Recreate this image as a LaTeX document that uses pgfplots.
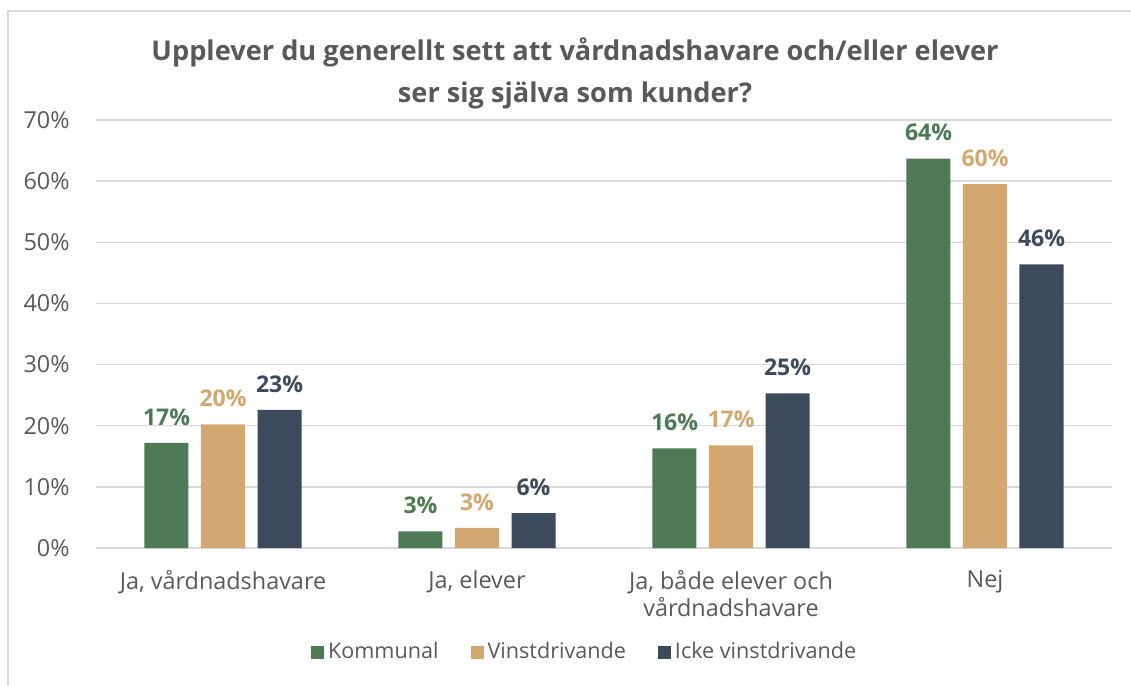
\documentclass[border=0pt]{standalone}
\usepackage{fontspec}
\setmainfont{Open Sans}
\usepackage{pgfplots}
\pgfplotsset{compat=1.18}
\definecolor{kom}{HTML}{4E7A55}
\definecolor{vin}{HTML}{D3A870}
\definecolor{icke}{HTML}{3D4A5C}
\definecolor{txt}{HTML}{595959}
\definecolor{gridc}{HTML}{D9D9D9}

\begin{document}
\begin{tikzpicture}
  % page: 1px = 0.5pt
  \path[use as bounding box] (0,0) rectangle (565.5pt,343pt);
  \draw[gridc, line width=1pt] (3.75pt,0) -- (3.75pt,337.5pt) -- (565.5pt,337.5pt);
  \node[txt, font=\fontsize{13.6}{21}\selectfont\bfseries, align=center]
    at (287.5pt,306.5pt) {Upplever du generellt sett att vårdnadshavare och/eller elever\\ser sig själva som kunder?};

  \begin{axis}[
      at={(48pt,69pt)}, anchor=south west,
      scale only axis, width=508pt, height=214pt,
      ybar=6.25pt, bar width=22pt,
      xmin=-0.5, xmax=3.5, ymin=0, ymax=70,
      xtick={0,1,2,3},
      xticklabels={{Ja, vårdnadshavare},{Ja, elever},{Ja, både elever och\\vårdnadshavare},{Nej}},
      ytick={0,10,...,70},
      yticklabels={0\%,10\%,20\%,30\%,40\%,50\%,60\%,70\%},
      major tick length=0pt,
      axis line style={draw=none},
      ymajorgrids, grid style={gridc, line width=0.75pt},
      tick label style={txt, font=\fontsize{11.7}{13.5}\selectfont},
      yticklabel style={anchor=east, inner sep=0pt, xshift=-13pt},
      xticklabel style={anchor=north, inner sep=0pt, yshift=-11pt, align=center},
      /pgf/number format/assume math mode=true,
      nodes near coords={\pgfmathprintnumber[fixed,precision=0]{\pgfplotspointmeta}\%},
      every node near coord/.append style={font=\fontsize{11.5}{13}\selectfont\bfseries, inner sep=0pt, anchor=south, yshift=8.5pt},
      legend style={at={(0.481,-0.243)}, anchor=center, draw=none, fill=none,
        legend columns=3, inner sep=0pt,
        font=\fontsize{10.8}{13}\selectfont, text=txt,
        nodes={inner sep=1pt},
        /tikz/every odd column/.append style={column sep=1pt},
        /tikz/every even column/.append style={column sep=15pt}},
      legend image code/.code={\fill[#1] (0pt,-3.25pt) rectangle (6.5pt,3.25pt);},
    ]
    \addplot[fill=kom, draw=none, every node near coord/.append style={text=kom}]
      coordinates {(0,17.2) (1,2.7) (2,16.3) (3,63.7)};
    \addplot[fill=vin, draw=none, every node near coord/.append style={text=vin}]
      coordinates {(0,20.2) (1,3.3) (2,16.8) (3,59.5)};
    \addplot[fill=icke, draw=none, every node near coord/.append style={text=icke}]
      coordinates {(0,22.6) (1,5.7) (2,25.3) (3,46.4)};
    \legend{Kommunal, Vinstdrivande, Icke vinstdrivande}
  \end{axis}
\end{tikzpicture}
\end{document}
